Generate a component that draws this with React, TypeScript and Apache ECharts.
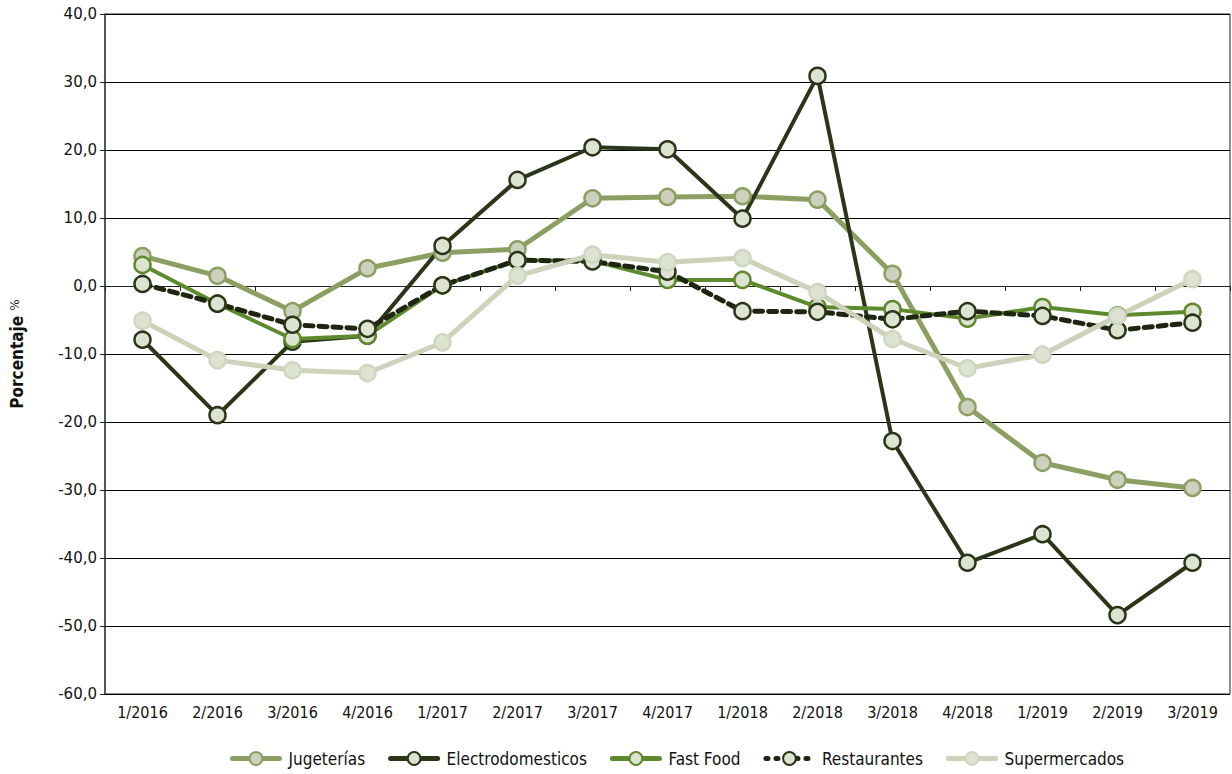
import React, { useEffect, useRef } from "react";
import * as echarts from "echarts";

const categories = ["1/2016","2/2016","3/2016","4/2016","1/2017","2/2017","3/2017","4/2017","1/2018","2/2018","3/2018","4/2018","1/2019","2/2019","3/2019"];
const jugeterias = [4.4, 1.5, -3.7, 2.6, 4.9, 5.4, 12.9, 13.1, 13.2, 12.7, 1.8, -17.8, -26.0, -28.5, -29.7];
const electrodomesticos = [-7.9, -19.0, -8.2, -7.3, 5.9, 15.6, 20.4, 20.1, 9.9, 30.9, -22.8, -40.7, -36.5, -48.4, -40.7];
const fastFood = [3.1, -2.6, -7.8, -7.3, 0.1, 3.8, 3.7, 0.9, 0.9, -3.1, -3.4, -4.8, -3.1, -4.3, -3.8];
const restaurantes = [0.3, -2.6, -5.7, -6.3, 0.1, 3.8, 3.6, 2.1, -3.7, -3.8, -4.9, -3.7, -4.4, -6.5, -5.4];
const supermercados = [-5.1, -10.9, -12.4, -12.8, -8.3, 1.5, 4.6, 3.5, 4.1, -0.9, -7.8, -12.1, -10.1, -4.4, 1.0];

const yTicks = { min: -60, max: 40, interval: 10 };

export default function App() {
  const ref = useRef<HTMLDivElement>(null);
  useEffect(() => {
    document.body.style.margin = "0";
    const chart = echarts.init(ref.current!, null, { renderer: "svg" });
    const DASH: any = [8, 6];
    const mk = (name: string, data: number[], line: string, fill: string, border: string, width: number, dashed = false) => ({
      name,
      type: "line",
      data,
      symbol: "circle",
      symbolSize: 16,
      lineStyle: { color: line, width, type: dashed ? DASH : "solid", cap: "round" },
      itemStyle: { color: fill, borderColor: border, borderWidth: 2.5 },
      emphasis: { disabled: true },
    });
    const leg = (name: string, color: string, dashed = false) => ({
      name,
      lineStyle: { width: 5, color, type: dashed ? [2, 8] : "solid", cap: "round" },
    });
    chart.setOption({
      animation: false,
      textStyle: { fontFamily: "DejaVu Sans Condensed" },
      grid: { left: 104, right: 2, top: 14, bottom: 80, show: true, borderColor: "#222", borderWidth: 1 },
      legend: {
        bottom: 2,
        left: 225,
        itemWidth: 47,
        itemHeight: 16,
        itemGap: 23,
        textStyle: { fontSize: 17, color: "#111", fontFamily: "DejaVu Sans Condensed", padding: [0, 0, 0, 4] },
        data: [
          leg("Jugeterías", "#8c9f62"),
          leg("Electrodomesticos", "#2b3519"),
          leg("Fast Food", "#5e8a2d"),
          leg("Restaurantes", "#1e2612", true),
          leg("Supermercados", "#cdd3bb"),
        ],
      },
      xAxis: {
        type: "category",
        data: categories,
        boundaryGap: true,
        axisLine: { lineStyle: { color: "#222", width: 1 } },
        axisTick: { show: true, length: 5, lineStyle: { color: "#222" } },
        axisLabel: { fontSize: 16, color: "#111", margin: 10, fontFamily: "DejaVu Sans Condensed" },
      },
      yAxis: {
        type: "value",
        min: yTicks.min,
        max: yTicks.max,
        interval: yTicks.interval,
        name: "Porcentaje {s|%}",
        nameLocation: "middle",
        nameGap: 80,
        nameTextStyle: {
          fontSize: 17,
          fontWeight: "bold",
          color: "#111",
          fontFamily: "DejaVu Sans Condensed",
          rich: { s: { fontSize: 13, fontWeight: "normal", color: "#111", verticalAlign: "top", padding: [0, 0, 4, 0] } },
        },
        axisLine: { show: true, lineStyle: { color: "#444", width: 1.5 } },
        axisTick: { show: true, length: 5, lineStyle: { color: "#222" } },
        axisLabel: {
          fontSize: 15,
          color: "#111",
          margin: 8,
          fontFamily: "DejaVu Sans",
          formatter: (v: number) => v.toFixed(1).replace(".", ","),
        },
        splitLine: { lineStyle: { color: "#000", width: 1 } },
      },
      series: [
        mk("Jugeterías", jugeterias, "#8c9f62", "#cdd0bd", "#8c9f62", 5),
        mk("Electrodomesticos", electrodomesticos, "#2b3519", "#dde3d1", "#2b3519", 4),
        mk("Fast Food", fastFood, "#5e8a2d", "#dde3d1", "#5e8a2d", 4),
        mk("Restaurantes", restaurantes, "#1e2612", "#dde3d1", "#2b3519", 5, true),
        mk("Supermercados", supermercados, "#cdd3bb", "#dde3d1", "#d0d6c1", 5),
      ],
    });
    return () => chart.dispose();
  }, []);
  return <div ref={ref} style={{ width: 1232, height: 774 }} />;
}
